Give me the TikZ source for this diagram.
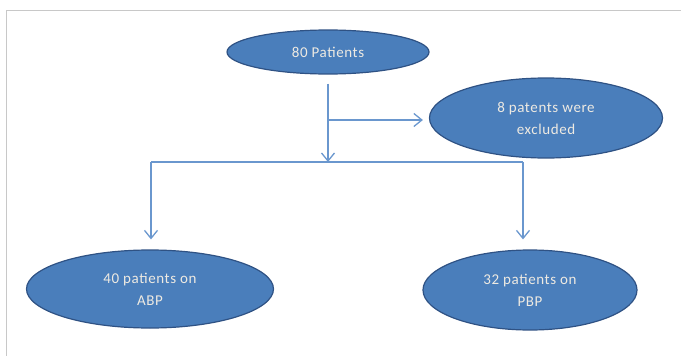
\documentclass[tikz,border=0pt]{standalone}
\usepackage{fontspec}
\setmainfont{Carlito}
\usetikzlibrary{shapes.geometric,arrows.meta}
\definecolor{boxfill}{HTML}{4A7EBB}
\definecolor{boxline}{HTML}{2F5284}
\definecolor{flowline}{HTML}{6A97CE}
\definecolor{boxtext}{HTML}{EEEAE2}
\definecolor{frameline}{HTML}{C8C8C8}

\begin{document}
\begin{tikzpicture}[x=1pt,y=-1pt,
  blob/.style={ellipse,draw=boxline,line width=1.2pt,fill=boxfill,inner sep=0pt,
    text=boxtext,align=center,font=\fontsize{15}{22}\selectfont\addfontfeature{LetterSpace=4}},
  flow/.style={draw=flowline,line width=1.3pt,-{Straight Barb[length=8pt,width=13pt,line width=1.3pt]}},
  link/.style={draw=flowline,line width=1.3pt}]
\useasboundingbox (0,0) rectangle (681,356);
% frame
\draw[frameline,line width=1pt] (681,10) -- (6,10) -- (6,356);
% ellipses
\node[blob,minimum width=202pt,minimum height=44pt] (pat) at (328,52) {80 Patients};
\node[blob,minimum width=233pt,minimum height=80pt] (excl) at (546,118) {8 patents were\\excluded};
\node[blob,minimum width=247pt,minimum height=78pt] (abp) at (150,289) {40 patients on\\ABP};
\node[blob,minimum width=214pt,minimum height=80pt] (pbp) at (530,290) {32 patients on\\PBP};
% connectors
\coordinate (tee) at (328,120);
\coordinate (split) at (328,162);
\coordinate (left) at (151,162);
\coordinate (right) at (523,162);
\draw[flow,shorten <=9pt] (pat.south) -- (split);
\draw[flow,shorten >=6pt] (tee) -- (excl.west |- tee);
\draw[link] (left) -- (right);
\draw[flow,shorten >=10pt] (left) -- (left |- abp.north);
\draw[flow,shorten >=10pt] (right) -- (right |- pbp.north);
\end{tikzpicture}
\end{document}
